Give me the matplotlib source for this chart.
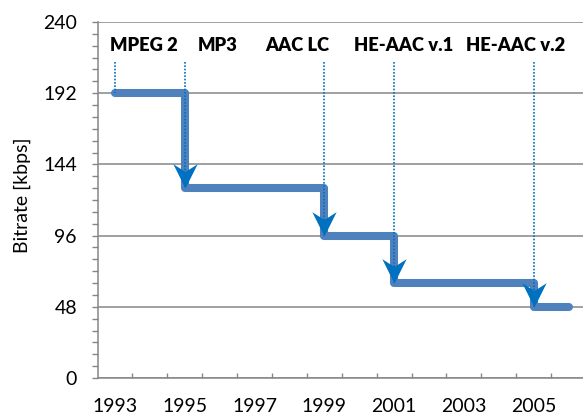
import matplotlib
matplotlib.use("Agg")
import matplotlib.pyplot as plt
from matplotlib.path import Path
from matplotlib.ticker import MultipleLocator, FixedLocator
import numpy as np

# ---- data ----
step_years = [1993, 1995, 1999, 2001, 2005, 2006]
bitrates = [192, 128, 96, 64, 48, 48]
codecs = ["MPEG 2", "MP3", "AAC LC", "HE-AAC v.1", "HE-AAC v.2"]
codec_years = [1993, 1995, 1999, 2001, 2005]
xtick_years = [1993, 1995, 1997, 1999, 2001, 2003, 2005]
ytick_values = [0, 48, 96, 144, 192, 240]

# ---- layout ----
label_x = [1993.84, 1995.95, 1998.24, 2001.26, 2004.48]
label_y = 224
dot_top = 213

FONT = "Lato"
line_c = "#4F81BD"
arrow_c = "#0070C0"
grid_c = "#868686"

fig = plt.figure(figsize=(5.83, 4.16), dpi=100)
ax = fig.add_axes([97.5 / 583, 1 - 378 / 416, (586 - 97.5) / 583, 356 / 416])

ax.set_xlim(1992.5, 2006.5)
ax.set_ylim(0, 240)

# main step line
ax.step(step_years, bitrates, where="post", color=line_c, lw=5.8,
        solid_joinstyle="round", solid_capstyle="round", zorder=3)

# dotted markers for codec introductions
for i, (yr, name) in enumerate(zip(codec_years, codecs)):
    idx = step_years.index(yr)
    bottom = bitrates[idx]
    ax.plot([yr, yr], [dot_top, bottom], color=arrow_c, lw=1.2,
            ls=(0, (1, 1)), zorder=4)
    ax.text(label_x[i], label_y, name, ha="center", va="center",
            fontsize=13.2, fontweight="heavy", family=FONT, color="black")

# arrowheads at each drop
arrow_path = Path([(0, 0), (-0.5, 1.0), (0, 0.68), (0.5, 1.0), (0, 0)],
                  [Path.MOVETO, Path.LINETO, Path.LINETO, Path.LINETO, Path.CLOSEPOLY])
for yr, v in zip(step_years[1:5], bitrates[1:5]):
    ax.plot([yr], [v], marker=arrow_path, markersize=35, color=arrow_c,
            markeredgewidth=0, linestyle="none", zorder=5)

# grid and spines
ax.yaxis.set_major_locator(FixedLocator(ytick_values))
ax.yaxis.set_minor_locator(MultipleLocator(8))
ax.grid(axis="y", which="major", color=grid_c, lw=1.1, zorder=0)
ax.set_axisbelow(True)
for s in ["top", "right"]:
    ax.spines[s].set_visible(False)
for s in ["left", "bottom"]:
    ax.spines[s].set_color(grid_c)
    ax.spines[s].set_linewidth(1.1)

ax.tick_params(axis="y", which="both", direction="out", length=4.3, width=1.0,
               color=grid_c, pad=10.5, labelsize=14)
ax.set_yticklabels([str(v) for v in ytick_values], family=FONT)

ax.xaxis.set_major_locator(FixedLocator(xtick_years))
ax.xaxis.set_minor_locator(FixedLocator(np.arange(1993.5, 2006.0, 1.0)))
ax.tick_params(axis="x", which="major", length=0, pad=14.5, labelsize=14)
ax.tick_params(axis="x", which="minor", direction="in", length=3.6, width=1.0,
               color=grid_c)
ax.set_xticklabels([str(v) for v in xtick_years], family=FONT)

fig.text(22 / 583, 1 - 195 / 416, "Bitrate [kbps]", rotation=90, ha="center",
         va="center", fontsize=14, family=FONT)

fig.savefig("out.png", dpi=100)
